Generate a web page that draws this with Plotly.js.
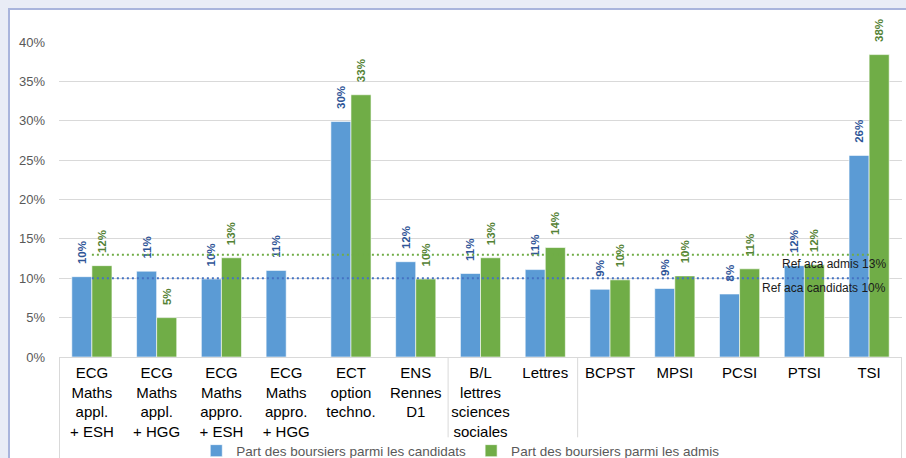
<!DOCTYPE html>
<html>
<head>
<meta charset="utf-8">
<script src="https://cdn.plot.ly/plotly-3.0.1.min.js"></script>
<style>
  html, body { margin: 0; padding: 0; }
  body { width: 906px; height: 458px; background: #e9ecf6; position: relative; overflow: hidden; }
  #frame { position: absolute; left: 8px; top: 8px; width: 898px; height: 450px; background: #ffffff;
           border-left: 2px solid #a9b4dc; border-top: 2px solid #a9b4dc; box-sizing: border-box; }
  #chart { position: absolute; left: 0; top: 0; width: 906px; height: 458px; }
</style>
</head>
<body>
<div id="frame"></div>
<div id="chart"></div>
<script>
// ---- data ----
const categories = [
  "ECG<br>Maths<br>appl.<br>+ ESH",
  "ECG<br>Maths<br>appl.<br>+ HGG",
  "ECG<br>Maths<br>appro.<br>+ ESH",
  "ECG<br>Maths<br>appro.<br>+ HGG",
  "ECT<br>option<br>techno.",
  "ENS<br>Rennes<br>D1",
  "B/L<br>lettres<br>sciences<br>sociales",
  "Lettres",
  "BCPST",
  "MPSI",
  "PCSI",
  "PTSI",
  "TSI"
];
const partCandidats = [0.102, 0.109, 0.099, 0.110, 0.299, 0.121, 0.106, 0.111, 0.086, 0.087, 0.080, 0.116, 0.256];
const partAdmis     = [0.116, 0.050, 0.126, null,  0.333, 0.099, 0.126, 0.139, 0.098, 0.103, 0.112, 0.117, 0.384];
const seriesNames = ["Part des boursiers parmi les candidats", "Part des boursiers parmi les admis"];
const refAdmis = 0.13;
const refCandidats = 0.10;
const refLabels = ["Ref aca admis 13%", "Ref aca candidats 10%"];
const groupBreaks = [-0.5, 5.5, 7.5, 12.5];

// ---- chart ----
const pad = '\u00a0\u00a0\u00a0';
const labelFont = (c) => ({family: 'Liberation Sans, Arial, sans-serif', size: 11.5, color: c, weight: 'bold'});

const traces = [
  {
    type: 'bar', name: seriesNames[0], x: categories, y: partCandidats,
    marker: {color: '#5b9bd5', line: {color: '#ffffff', width: 0.6}},
    texttemplate: pad + '<b>%{y:.0%}</b>', textposition: 'outside', textangle: -90,
    textfont: labelFont('#2f5597'), cliponaxis: false, constraintext: 'none', hoverinfo: 'skip'
  },
  {
    type: 'bar', name: seriesNames[1], x: categories, y: partAdmis,
    marker: {color: '#70ad47', line: {color: '#ffffff', width: 0.6}},
    texttemplate: pad + '<b>%{y:.0%}</b>', textposition: 'outside', textangle: -90,
    textfont: labelFont('#548235'), cliponaxis: false, constraintext: 'none', hoverinfo: 'skip'
  }
];

const shapes = [
  {type: 'line', xref: 'x', yref: 'y', x0: 0, x1: categories.length - 1, y0: refAdmis, y1: refAdmis,
   line: {color: '#70ad47', width: 2, dash: '2px,3px'}},
  {type: 'line', xref: 'x', yref: 'y', x0: 0, x1: categories.length - 1, y0: refCandidats, y1: refCandidats,
   line: {color: '#4472c4', width: 2, dash: '2px,3px'}}
];
groupBreaks.forEach((b, i) => {
  const outer = (i === 0 || i === groupBreaks.length - 1);
  shapes.push({type: 'line', xref: 'x', yref: 'paper', x0: b, x1: b, y0: 0, y1: outer ? -0.33 : -0.255,
               line: {color: '#d9d9d9', width: 1}, layer: 'below'});
});

const layout = {
  width: 906, height: 458,
  margin: {l: 59, r: 4, t: 42, b: 101, autoexpand: false},
  paper_bgcolor: 'rgba(0,0,0,0)', plot_bgcolor: 'rgba(0,0,0,0)',
  barmode: 'group', bargap: 0.38, bargroupgap: 0,
  font: {family: 'Liberation Sans, Arial, sans-serif'},
  xaxis: {
    type: 'category', showgrid: false, showline: true, linecolor: '#d9d9d9', linewidth: 1,
    ticks: '', tickangle: 0, ticklabelstandoff: 2, automargin: false,
    tickfont: {family: 'Liberation Sans, Arial, sans-serif', size: 15, color: '#000000'}
  },
  yaxis: {
    range: [0, 0.40], dtick: 0.05, tickformat: '.0%', showgrid: true, gridcolor: '#d9d9d9', gridwidth: 1,
    zeroline: false, showline: false, ticks: '', ticklabelstandoff: 13, automargin: false,
    tickfont: {family: 'Liberation Sans, Arial, sans-serif', size: 13, color: '#595959'}
  },
  showlegend: true,
  legend: {
    orientation: 'h', x: 0.476, xanchor: 'center', y: -0.298, yanchor: 'middle',
    font: {family: 'Liberation Sans, Arial, sans-serif', size: 13.5, color: '#595959'},
    bgcolor: 'rgba(0,0,0,0)'
  },
  shapes: shapes,
  annotations: [
    {xref: 'paper', yref: 'y', x: 0.983, y: refAdmis, xanchor: 'right', yanchor: 'middle', yshift: -9,
     text: refLabels[0], showarrow: false, font: {size: 12, color: '#1a1a1a'}},
    {xref: 'paper', yref: 'y', x: 0.983, y: refCandidats, xanchor: 'right', yanchor: 'middle', yshift: -10,
     text: refLabels[1], showarrow: false, font: {size: 12, color: '#1a1a1a'}}
  ]
};

Plotly.newPlot('chart', traces, layout, {displayModeBar: false, staticPlot: true});
</script>
</body>
</html>
